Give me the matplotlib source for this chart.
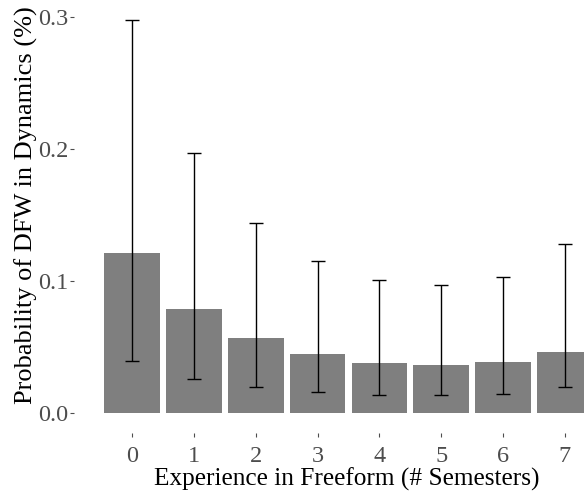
import matplotlib
matplotlib.use("Agg")
import matplotlib.pyplot as plt
import numpy as np

plt.rcParams['font.family'] = ['Liberation Serif', 'DejaVu Serif']

semesters = [0, 1, 2, 3, 4, 5, 6, 7]
prob = [0.121, 0.0790, 0.0566, 0.0444, 0.0381, 0.0366, 0.0389, 0.0463]
ci_low = [0.0396, 0.0260, 0.0194, 0.0161, 0.0136, 0.0139, 0.0147, 0.0197]
ci_high = [0.2977, 0.1967, 0.1442, 0.1154, 0.1010, 0.0970, 0.1033, 0.1278]
yticks = [0.0, 0.1, 0.2, 0.3]

fig = plt.figure(figsize=(5.84, 4.92), dpi=100)
ax = fig.add_axes([74 / 584, 59 / 492, 1 - 74 / 584, 1 - 59 / 492])

x = np.array(semesters)
p = np.array(prob)
err = [p - np.array(ci_low), np.array(ci_high) - p]

ax.bar(x, p, width=0.9, color='#7f7f7f', edgecolor='none', zorder=1)
ax.errorbar(x, p, yerr=err, fmt='none', ecolor='black', elinewidth=1.0,
            capsize=4.7, capthick=1.0, zorder=2)

ax.set_xlim(-0.943, 7.31)
ax.set_ylim(-0.01515, 0.3129)
ax.set_xticks(semesters)
ax.set_yticks(yticks)
ax.set_yticklabels(['%.1f' % v for v in yticks])

for s in ax.spines.values():
    s.set_visible(False)
ax.tick_params(axis='both', colors='#4d4d4d', labelcolor='#4d4d4d',
               length=3, width=0.8, labelsize=17.5)
ax.tick_params(axis='x', pad=6)
ax.tick_params(axis='y', pad=1)

# the original panel runs past the cropped right edge, so the titles sit off-centre
ax.set_xlabel('Experience in Freeform (# Semesters)', fontsize=18.2, color='black')
ax.xaxis.label.set_va('center')
ax.xaxis.set_label_coords(0.535, -0.106)
ax.set_ylabel('Probability of DFW in Dynamics (%)', fontsize=19, color='black')
ax.yaxis.label.set(va='center', ha='center', rotation_mode='default')
ax.yaxis.set_label_coords(-0.094, 0.527)

fig.savefig('out.png', dpi=100)
